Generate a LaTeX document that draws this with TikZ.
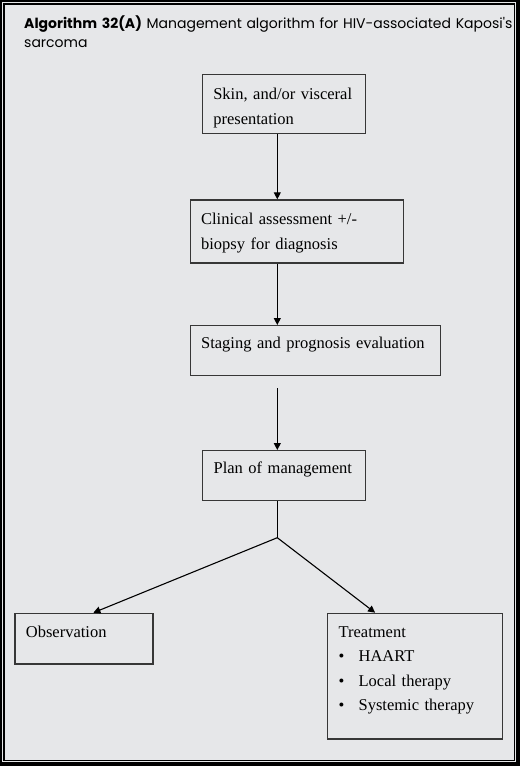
\documentclass[tikz,border=0pt]{standalone}
\usepackage{fontspec}
\setmainfont{Liberation Serif}
\newfontfamily\titlefont{Poppins}
\usetikzlibrary{arrows.meta}

\definecolor{panel}{RGB}{230,231,233}
\definecolor{boxline}{RGB}{55,55,55}

\tikzset{
  flowbox/.style={draw=boxline, line width=1.2pt, anchor=north west, align=left,
    inner xsep=11pt, inner ysep=0pt, font=\fontsize{16.5}{24.5}\selectfont},
  flowarrow/.style={line width=1.1pt, -{Triangle[length=7pt,width=7pt]}},
}

\begin{document}
\begin{tikzpicture}[x=1pt, y=-1pt]
\useasboundingbox (0,0) rectangle (520,766);

% frame
\fill[black] (0,0) rectangle (520,766);
\fill[panel] (2.2,2.2) rectangle (516,762);
\draw[black, line width=1.4pt, fill=panel] (4,4) rectangle (514.5,760.5);

\node[anchor=base west, align=left, inner sep=0pt, text width=490pt,
  font=\titlefont\fontsize{14}{19}\selectfont] (title) at (24,28)
  {\textbf{Algorithm 32(A)} Management algorithm for HIV-associated Kaposi's\\sarcoma};

% boxes
\node[flowbox, text width=141pt, text height=25pt, text depth=34pt] (skin) at (201.7,74)
  {Skin, and/or visceral\\presentation};
\node[flowbox, text width=191pt, text height=25pt, text depth=38pt] (clin) at (189.5,199.3)
  {Clinical assessment +/-\\biopsy for diagnosis};
\node[flowbox, text width=228pt, text height=23pt, text depth=27pt] (stage) at (189.5,325)
  {Staging and prognosis evaluation};
\node[flowbox, text width=141pt, text height=23pt, text depth=27pt] (plan) at (202,450)
  {Plan of management};
\node[flowbox, text width=116pt, text height=24pt, text depth=26.6pt] (obs) at (14.3,612.7)
  {Observation};
\node[flowbox, text width=153pt, text height=24pt, text depth=101.6pt] (treat) at (327,612.7)
  {Treatment\\
   \makebox[20pt][l]{\textbullet}HAART\\
   \makebox[20pt][l]{\textbullet}Local therapy\\
   \makebox[20pt][l]{\textbullet}Systemic therapy};

% connectors
\coordinate (split) at (277.3,537.7);
\draw[flowarrow] (skin.south -| split) -- (clin.north -| split);
\draw[flowarrow] (clin.south -| split) -- (stage.north -| split);
\draw[flowarrow] ([yshift=-12pt]stage.south -| split) -- (plan.north -| split);
\draw[line width=1.1pt] (plan.south -| split) -- (split);
\draw[flowarrow] (split) -- ([xshift=9.5pt]obs.north);
\draw[flowarrow] (split) -- ([xshift=-40pt]treat.north);
\end{tikzpicture}
\end{document}
